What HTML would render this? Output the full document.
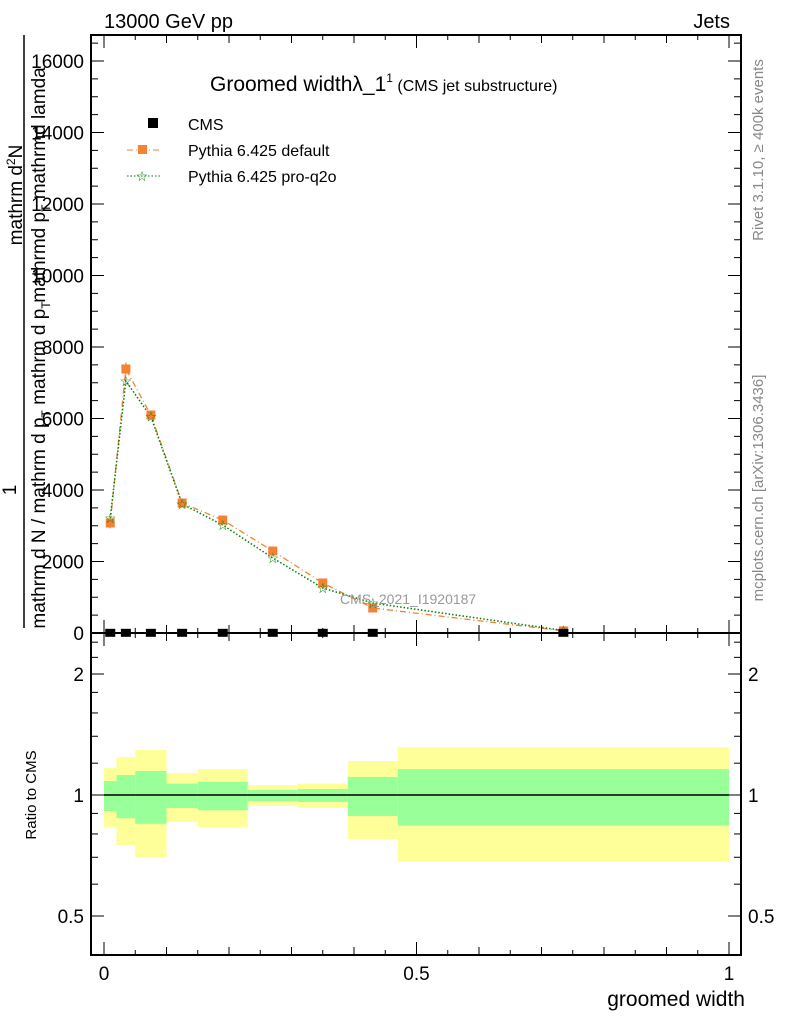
<!DOCTYPE html>
<html><head><meta charset="utf-8"><style>
html,body{margin:0;padding:0;background:#fff;}
svg{display:block;font-family:"Liberation Sans",sans-serif;}
</style></head><body>
<svg id="chart" width="786" height="1024" viewBox="0 0 786 1024" xmlns="http://www.w3.org/2000/svg">
<g id="ratio-bands"></g>
<g id="main-marks"></g>
<g id="axes"></g>
<rect x="91" y="35" width="650" height="598" fill="none" stroke="#000" stroke-width="2"/>
<rect x="91" y="633" width="650" height="322" fill="none" stroke="#000" stroke-width="2"/>
<text x="104" y="28" font-size="20">13000 GeV pp</text>
<text x="730" y="28" font-size="20" text-anchor="end">Jets</text>
<text x="210" y="91" font-size="21">Groomed width<tspan>λ_1</tspan><tspan font-size="12" dy="-9">1</tspan><tspan font-size="16" dy="9"> (CMS jet substructure)</tspan></text>
<g>
 <rect x="148" y="118" width="10" height="10" fill="#000"/>
 <text x="188" y="130" font-size="16">CMS</text>
 <line x1="127" y1="150" x2="162" y2="150" stroke="#f58232" stroke-dasharray="6,3,1,3"/>
 <rect x="138" y="145" width="9" height="9" fill="#f58232"/>
 <text x="188" y="156" font-size="16">Pythia 6.425 default</text>
 <line x1="127" y1="176" x2="162" y2="176" stroke="#008000" stroke-dasharray="1.5,2"/>
 <text x="142" y="181" font-size="14" fill="#008000" text-anchor="middle">☆</text>
 <text x="188" y="182" font-size="16">Pythia 6.425 pro-q2o</text>
</g>
<text x="340" y="604" font-size="14" fill="#999">CMS_2021_I1920187</text>
<text transform="translate(763,150) rotate(-90)" font-size="15" fill="#888" text-anchor="middle">Rivet 3.1.10, ≥ 400k events</text>
<text transform="translate(763,488) rotate(-90)" font-size="15" fill="#888" text-anchor="middle">mcplots.cern.ch [arXiv:1306.3436]</text>
<g>
 <text transform="translate(22,195) rotate(-90)" font-size="19" text-anchor="middle">mathrm d<tspan font-size="12" dy="-7">2</tspan><tspan dy="7">N</tspan></text>
 <text transform="translate(45,185) rotate(-90)" font-size="19" text-anchor="middle">mathrmd p<tspan font-size="12" dy="5">T</tspan><tspan dy="-5"> mathrmd lamda</tspan></text>
 <line x1="24" y1="35" x2="24" y2="628" stroke="#000" stroke-width="1.5"/>
 <text transform="translate(16,490) rotate(-90)" font-size="19" text-anchor="middle">1</text>
 <text transform="translate(45,465) rotate(-90)" font-size="19" text-anchor="middle">mathrm d N / mathrm d p<tspan font-size="12" dy="5">T</tspan><tspan dy="-5"> mathrm d p</tspan><tspan font-size="12" dy="5">T</tspan></text>
</g>
<text transform="translate(36,795) rotate(-90)" font-size="15" text-anchor="middle">Ratio to CMS</text>
<text x="745" y="1006" font-size="21" text-anchor="end">groomed width</text>
</svg>
<script>
const binEdges=[0,0.02,0.05,0.1,0.15,0.23,0.31,0.39,0.47,1.0];
const binCenters=[0.01,0.035,0.075,0.125,0.19,0.27,0.35,0.43,0.735];
const cmsValues=[5,5,5,5,5,5,5,5,5];
const defaultValues=[3077,7385,6098,3636,3160,2294,1399,700,60];
const defaultErrors=[150,180,100,60,50,40,30,25,10];
const proq2oValues=[3217,7049,6050,3608,3021,2098,1259,839,70];
const yellowHi=[1.167,1.243,1.294,1.134,1.16,1.059,1.067,1.215,1.314];
const yellowLo=[0.832,0.751,0.701,0.857,0.832,0.939,0.93,0.777,0.683];
const greenHi=[1.083,1.121,1.147,1.067,1.079,1.029,1.035,1.109,1.16];
const greenLo=[0.912,0.875,0.848,0.928,0.916,0.966,0.961,0.887,0.839];
const yTicks=[0,2000,4000,6000,8000,10000,12000,14000,16000];
const yTickLabels=["0","2000","4000","6000","8000","10000","12000","14000","16000"];
const rTicks=[0.5,1,2];
const rTickLabels=["0.5","1","2"];
const xTicks=[0,0.5,1];
const xTickLabels=["0","0.5","1"];

const NS="http://www.w3.org/2000/svg";
const X=v=>104+v*625;
const Y=v=>633-v*0.03575;
const R=v=>795-Math.log2(v)*121;
function mk(tag,attrs,parent){const e=document.createElementNS(NS,tag);for(const k in attrs)e.setAttribute(k,attrs[k]);parent.appendChild(e);return e;}
const bands=document.getElementById('ratio-bands');
const marks=document.getElementById('main-marks');
const axes=document.getElementById('axes');
for(let i=0;i<binCenters.length;i++){
  const x0=X(binEdges[i]),x1=X(binEdges[i+1]);
  const y=mk('rect',{x:x0,y:R(yellowHi[i]),width:x1-x0,height:R(yellowLo[i])-R(yellowHi[i]),fill:'#ffff99'},bands);
  
  
  const g=mk('rect',{x:x0,y:R(greenHi[i]),width:x1-x0,height:R(greenLo[i])-R(greenHi[i]),fill:'#99ff99'},bands);
  
  
}
const ref=mk('line',{x1:X(0),x2:X(1),y1:R(1),y2:R(1),stroke:'#000','stroke-width':1.5},bands);


const dp=binCenters.map((c,i)=>X(c)+','+Y(defaultValues[i])).join(' ');
const l1=mk('polyline',{points:dp,fill:'none',stroke:'#f58232','stroke-width':1.3,'stroke-dasharray':'6,3,1,3'},marks);


const pp=binCenters.map((c,i)=>X(c)+','+Y(proq2oValues[i])).join(' ');
const l2=mk('polyline',{points:pp,fill:'none',stroke:'#008000','stroke-width':1.5,'stroke-dasharray':'1.5,2'},marks);


for(let i=0;i<binCenters.length;i++){
  const cx=X(binCenters[i]);
  const eb=mk('line',{x1:cx,x2:cx,y1:Y(defaultValues[i]+defaultErrors[i]),y2:Y(defaultValues[i]-defaultErrors[i]),stroke:'#f58232','stroke-width':1.2},marks);
  
  
  const s=mk('rect',{x:cx-4.5,y:Y(defaultValues[i])-4.5,width:9,height:9,fill:'#f58232'},marks);
  
  
  const t=mk('text',{x:cx,y:Y(proq2oValues[i])+5,'font-size':14,fill:'#008000','text-anchor':'middle'},marks);
  t.textContent='☆';
  
  
  const c=mk('rect',{x:cx-5,y:Y(cmsValues[i])-4,width:10,height:8,fill:'#000'},marks);
  
  
}
for(let v=0;v<=16500;v+=500){
  const big=v%2000===0,len=big?13:7;
  mk('line',{x1:91,x2:91+len,y1:Y(v),y2:Y(v),stroke:'#000'},axes);
  mk('line',{x1:741,x2:741-len,y1:Y(v),y2:Y(v),stroke:'#000'},axes);
}
yTicks.forEach((v,i)=>{
  const t=mk('text',{x:84,y:Y(v)+7,'font-size':19,'text-anchor':'end'},axes);
  t.textContent=yTickLabels[i];
  
  
});
for(let k=0;k<=20;k++){
  const v=k*0.05,big=k%10===0,len=big?13:(k%2===0?8:5);
  [[633,-1],[35,1],[955,-1],[633,1]].forEach(([y0,d])=>mk('line',{x1:X(v),x2:X(v),y1:y0,y2:y0+d*len,stroke:'#000'},axes));
}
xTicks.forEach((v,i)=>{
  const t=mk('text',{x:X(v),y:980,'font-size':19,'text-anchor':'middle'},axes);
  t.textContent=xTickLabels[i];
  
  
});
const rMinor=[0.4,0.5,0.6,0.7,0.8,0.9,1,1.2,1.4,1.6,1.8,2,2.2,2.4];
rMinor.forEach(v=>{
  const big=rTicks.includes(v),len=big?13:7,y=R(v);
  if(y<635||y>953)return;
  mk('line',{x1:91,x2:91+len,y1:y,y2:y,stroke:'#000'},axes);
  mk('line',{x1:741,x2:741-len,y1:y,y2:y,stroke:'#000'},axes);
});
rTicks.forEach((v,i)=>{
  const t=mk('text',{x:84,y:R(v)+7,'font-size':19,'text-anchor':'end'},axes);
  t.textContent=rTickLabels[i];
  
  
  const t2=mk('text',{x:748,y:R(v)+7,'font-size':19},axes);
  t2.textContent=rTickLabels[i];
  
  
});
</script>
</body></html>
